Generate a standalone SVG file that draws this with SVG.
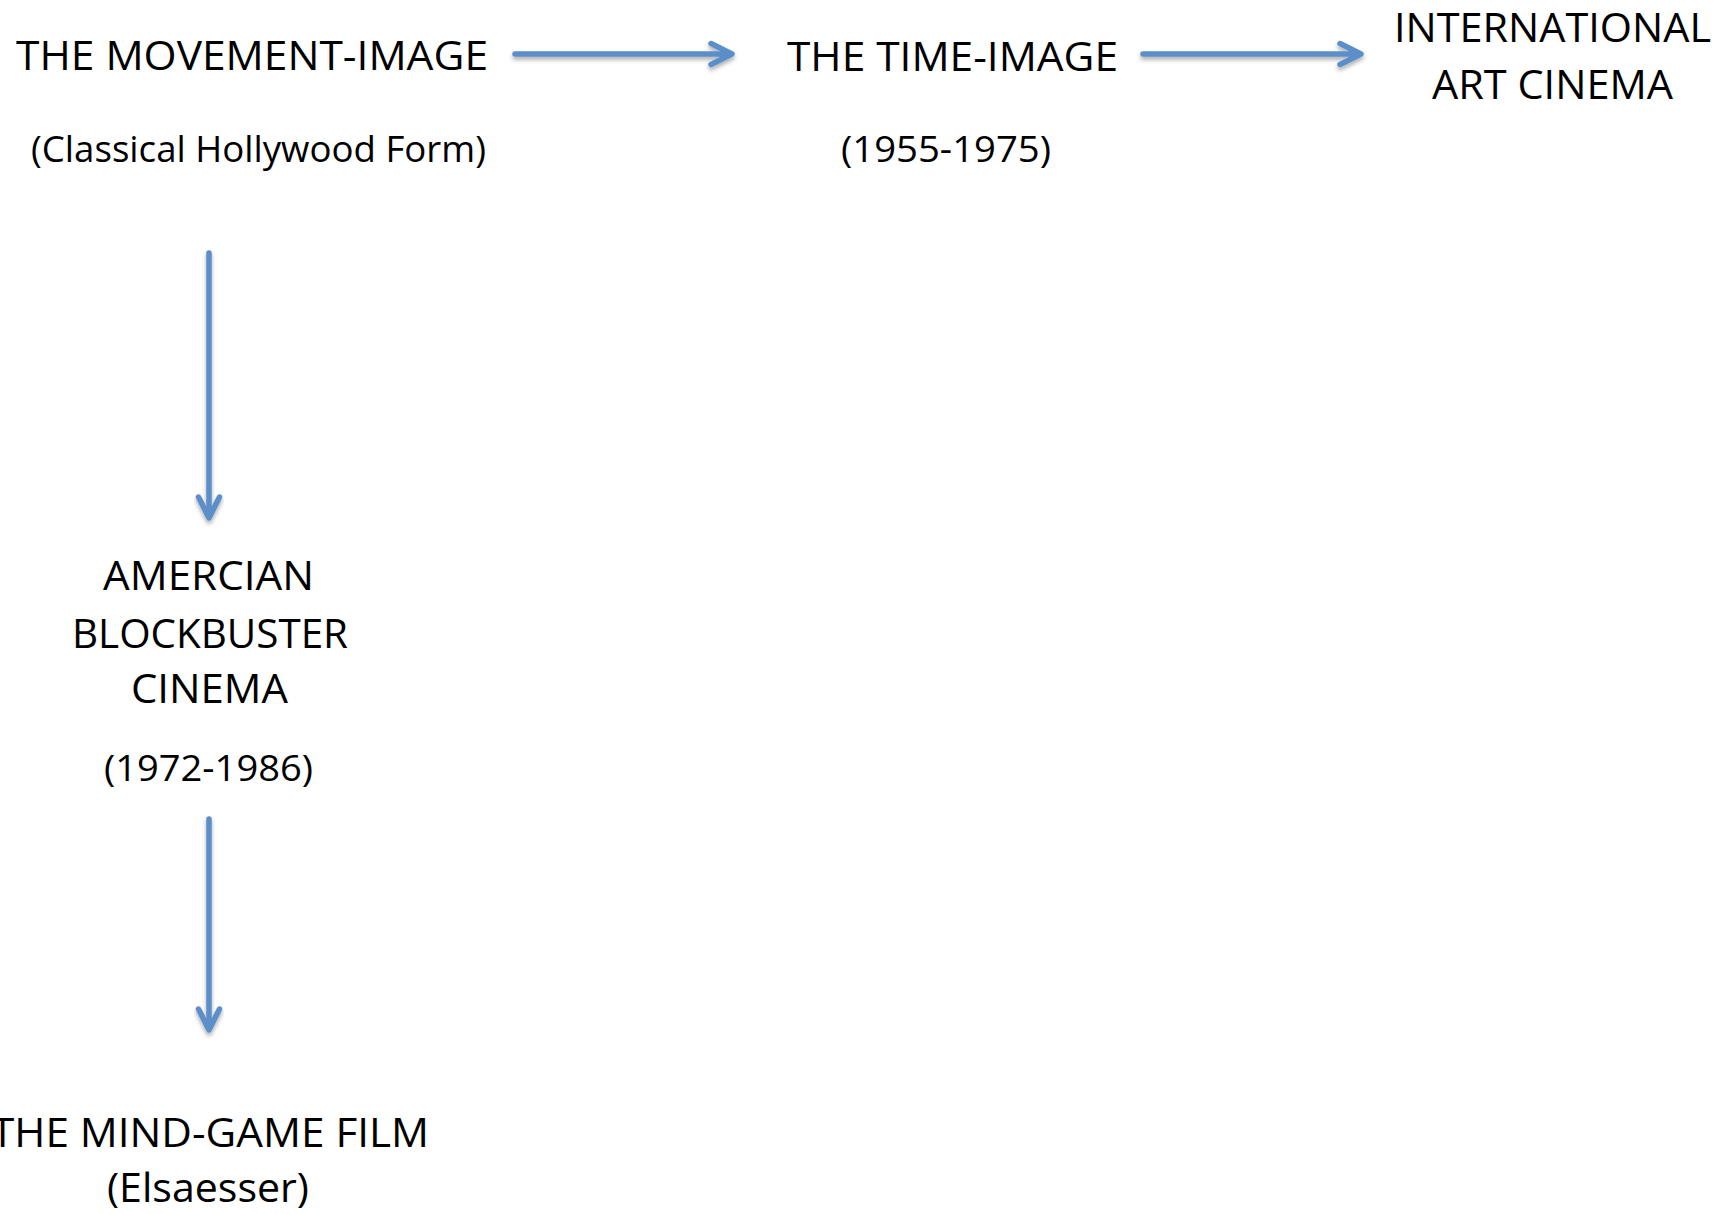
<svg xmlns="http://www.w3.org/2000/svg" width="1727" height="1214" viewBox="0 0 1727 1214">
  <style>
    .title { font-family: "Open Sans", Lato, "Liberation Sans", sans-serif; font-size: 40px; fill: #000; text-anchor: middle; }
    .sub { font-family: "Open Sans", Lato, "Liberation Sans", sans-serif; font-size: 36px; fill: #000; text-anchor: middle; }
    .conn { fill: none; stroke: #5B8FC9; stroke-width: 5.5; stroke-linecap: round; stroke-linejoin: round; filter: url(#shadow); }
  </style>
  <defs>
    <filter id="shadow" x="-20%" y="-50%" width="140%" height="200%">
      <feDropShadow dx="0" dy="3" stdDeviation="2.2" flood-color="#000" flood-opacity="0.32"/>
    </filter>
  </defs>

  <rect width="1727" height="1214" fill="#fff"/>

  <!-- connectors: shaft plus open chevron head -->
  <g id="connectors">
    <path class="conn" d="M515 54 H730 M711 43.5 L732 54 L711 64.5"/>
    <path class="conn" d="M1143 54 H1359 M1340 43.5 L1361 54 L1340 64.5"/>
    <path class="conn" d="M209 253 V515 M198.5 497 L209 518 L219.5 497"/>
    <path class="conn" d="M209 819 V1027 M198.5 1009 L209 1030 L219.5 1009"/>
  </g>

  <g id="movement-image">
    <text class="title" x="252" y="70" textLength="472" lengthAdjust="spacingAndGlyphs">THE MOVEMENT-IMAGE</text>
    <text class="sub" x="258.5" y="162" textLength="455" lengthAdjust="spacingAndGlyphs">(Classical Hollywood Form)</text>
  </g>

  <g id="time-image">
    <text class="title" x="952.5" y="71" textLength="331" lengthAdjust="spacingAndGlyphs">THE TIME-IMAGE</text>
    <text class="sub" x="946" y="162" textLength="210" lengthAdjust="spacingAndGlyphs">(1955-1975)</text>
  </g>

  <g id="art-cinema">
    <text class="title" x="1552.5" y="42" textLength="317" lengthAdjust="spacingAndGlyphs">INTERNATIONAL</text>
    <text class="title" x="1552.5" y="99" textLength="241" lengthAdjust="spacingAndGlyphs">ART CINEMA</text>
  </g>

  <g id="blockbuster">
    <text class="title" x="208.5" y="590" textLength="211" lengthAdjust="spacingAndGlyphs">AMERCIAN</text>
    <text class="title" x="210" y="648" textLength="276" lengthAdjust="spacingAndGlyphs">BLOCKBUSTER</text>
    <text class="title" x="209.5" y="703" textLength="157" lengthAdjust="spacingAndGlyphs">CINEMA</text>
    <text class="sub" x="208.5" y="781" textLength="209" lengthAdjust="spacingAndGlyphs">(1972-1986)</text>
  </g>

  <g id="mind-game">
    <text class="title" x="210" y="1147" textLength="438" lengthAdjust="spacingAndGlyphs">THE MIND-GAME FILM</text>
    <text class="title" x="208" y="1202" textLength="202" lengthAdjust="spacingAndGlyphs">(Elsaesser)</text>
  </g>
</svg>
